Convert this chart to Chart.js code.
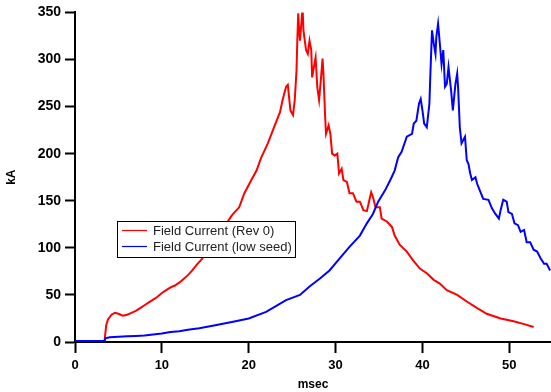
<!DOCTYPE html>
<html>
<head>
<meta charset="utf-8">
<script src="https://cdn.jsdelivr.net/npm/chart.js@4/dist/chart.umd.min.js"></script>
<style>
  html, body { margin: 0; padding: 0; background: #fff; }
  #chart { display: block; }
</style>
</head>
<body>
<canvas id="chart" width="551" height="392"></canvas>
<script>
"use strict";

// values (time in msec, current in kA)
var redLabel = "Field Current (Rev 0)";
var redColor = '#ff0000';
var redTime = [0, 3.4, 3.5, 3.6, 3.8, 4.2, 4.6, 5.0, 5.5, 6.0,
    6.5, 7.0, 7.5, 8.0, 8.5, 9.0, 9.5, 10.0, 10.5, 11.0,
    11.5, 12.0, 12.5, 13.0, 13.5, 14.0, 14.5, 15, 16, 17,
    18.1, 18.9, 19.5, 20.3, 20.9, 21.4, 22.2, 23.0, 23.6, 23.9,
    24.3, 24.5, 24.8, 25.1, 25.3, 25.5, 25.6, 25.7, 25.8, 25.9,
    26.2, 26.3, 26.6, 26.8, 27.0, 27.2, 27.3, 27.5, 27.7, 27.9,
    28.1, 28.3, 28.5, 28.6, 28.8, 28.9, 29.2, 29.4, 29.6, 29.9,
    30.2, 30.4, 30.7, 30.9, 31.3, 31.6, 32.0, 32.4, 32.8, 33.2,
    33.6, 33.9, 34.1, 34.3, 34.6, 35.1, 35.3, 35.9, 36.5, 36.8,
    37.4, 38.2, 38.9, 39.7, 40.5, 41.3, 42.0, 42.8, 44.0, 45.1,
    46.3, 47.4, 49.0, 50.5, 51.7, 52.8];
var redKA = [1, 1, 10, 18, 24, 29, 31, 30, 28, 29,
    31, 33, 36, 39, 42, 45, 48, 52, 55, 58,
    60, 63, 67, 71, 76, 82, 87, 93, 106, 120,
    135, 143, 158, 172, 182, 195, 211, 230, 244, 257,
    271, 273, 246, 241, 257, 288, 322, 349, 331, 320,
    355, 331, 310, 306, 320, 310, 281, 292, 302, 270,
    257, 278, 301, 285, 239, 221, 230, 221, 200, 198,
    200, 179, 184, 172, 170, 158, 158, 149, 149, 140,
    139, 151, 159, 154, 143, 143, 131, 128, 122, 113,
    103, 96, 87, 78, 73, 66, 62, 55, 50, 43,
    36, 30, 25, 22, 19, 16];

var blueLabel = "Field Current (low seed)";
var blueColor = '#0000ff';
var blueTime = [0, 3.4, 3.5, 4, 5, 6, 7, 8, 9, 10,
    11, 12, 13, 14.3, 16, 18.2, 20, 22.0, 24.3, 25.9,
    27.0, 28.2, 29.3, 30.5, 31.6, 32.8, 33.6, 34.3, 34.9, 35.7,
    36.3, 36.8, 37.2, 37.6, 38.2, 38.8, 39.0, 39.3, 39.6, 39.8,
    40.0, 40.2, 40.5, 40.8, 40.9, 41.1, 41.3, 41.5, 41.6, 41.8,
    42.0, 42.2, 42.4, 42.6, 42.8, 43.0, 43.3, 43.5, 43.8, 44.0,
    44.1, 44.3, 44.5, 44.9, 45.1, 45.3, 45.5, 45.7, 46.1, 46.3,
    46.6, 47.0, 47.6, 48.0, 48.4, 48.8, 49.0, 49.3, 49.7, 49.9,
    50.3, 50.6, 51.0, 51.3, 51.7, 52.0, 52.4, 52.8, 53.2, 53.6,
    54.0, 54.3, 54.7];
var blueKA = [1, 1, 4, 5, 5.5, 6, 6.5, 7, 8, 9,
    10.5, 11.5, 13, 14.5, 17.5, 21.5, 25, 32, 44.5, 50,
    59, 67.5, 76, 89, 101, 113, 126, 136, 149, 161,
    172, 182, 196, 202, 218, 221, 232, 235, 253, 258,
    246, 232, 228, 253, 281, 331, 317, 306, 324, 338,
    317, 295, 310, 271, 274, 292, 267, 246, 274, 285,
    271, 228, 211, 218, 193, 189, 179, 172, 175, 168,
    161, 152, 151, 142, 136, 131, 140, 151, 149, 138,
    136, 126, 124, 117, 119, 106, 106, 98, 96, 89,
    83, 83, 76];

var xTicks = [0, 10, 20, 30, 40, 50];
var yTicks = [0, 50, 100, 150, 200, 250, 300, 350];

function toPoints(xs, ys) {
    return xs.map(function (x, i) { return { x: x, y: ys[i] }; });
}

var xTickFont = { family: "'Liberation Sans', Arial, sans-serif", size: 13, weight: 'bold' };
var yTickFont = { family: "'Liberation Sans', Arial, sans-serif", size: 14, weight: 'bold' };
var titleFont = { family: "'Liberation Sans', Arial, sans-serif", size: 12, weight: 'bold' };

// legend box drawn inside the plot, like the original
var legendEntries = [
    { label: redLabel, color: redColor },
    { label: blueLabel, color: blueColor }
];
var boxLegend = {
    id: 'boxLegend',
    afterDraw: function (chart) {
        var ctx = chart.ctx;
        var left = 117.5, top = 221.5, w = 178, h = 36;
        ctx.save();
        ctx.fillStyle = '#fff';
        ctx.fillRect(left, top, w, h);
        ctx.strokeStyle = '#000';
        ctx.lineWidth = 1;
        ctx.strokeRect(left, top, w, h);
        ctx.font = "13px 'Liberation Sans', Arial, sans-serif";
        ctx.textBaseline = 'middle';
        legendEntries.forEach(function (entry, i) {
            var y = Math.round(top + 8 + i * 16.5) + 0.5;
            ctx.strokeStyle = entry.color;
            ctx.lineWidth = 1.2;
            ctx.beginPath();
            ctx.moveTo(122, y);
            ctx.lineTo(147, y);
            ctx.stroke();
            ctx.fillStyle = '#222';
            ctx.fillText(entry.label, 153, y + 1);
        });
        ctx.restore();
    }
};

var chartArea = document.getElementById("chart");
var currentChart = new Chart(chartArea, {
    type: 'line',
    data: {
        datasets: [
            {
                label: redLabel,
                data: toPoints(redTime, redKA),
                borderColor: redColor,
                borderWidth: 2,
                pointRadius: 0,
                tension: 0,
                fill: false,
                order: 1
            },
            {
                label: blueLabel,
                data: toPoints(blueTime, blueKA),
                borderColor: blueColor,
                borderWidth: 2,
                pointRadius: 0,
                tension: 0,
                fill: false,
                order: 0
            }
        ]
    },
    options: {
        responsive: false,
        animation: false,
        layout: { padding: { top: 12, right: 0, bottom: 0, left: 0 } },
        plugins: {
            legend: { display: false },
            tooltip: { enabled: false }
        },
        scales: {
            x: {
                type: 'linear',
                min: 0,
                max: 54.8,
                afterBuildTicks: function (scale) {
                    scale.ticks = xTicks.map(function (v) { return { value: v }; });
                },
                afterFit: function (scale) { scale.height = 50; },
                ticks: { font: xTickFont, color: '#000', padding: 5, maxRotation: 0 },
                grid: { drawOnChartArea: false, tickLength: 11, tickWidth: 2, tickColor: '#000' },
                border: { color: '#000', width: 2 },
                title: { display: true, text: 'msec', font: titleFont, color: '#000', padding: { top: 0, bottom: 0 } }
            },
            y: {
                min: 0,
                max: 350,
                afterBuildTicks: function (scale) {
                    scale.ticks = yTicks.map(function (v) { return { value: v }; });
                },
                afterFit: function (scale) { scale.width = 75; },
                ticks: { font: yTickFont, color: '#000', padding: 4 },
                grid: { drawOnChartArea: false, tickLength: 10, tickWidth: 2, tickColor: '#000' },
                border: { color: '#000', width: 2 },
                title: { display: true, text: 'kA', font: titleFont, color: '#000', padding: { top: 4, bottom: 0 } }
            }
        }
    },
    plugins: [boxLegend]
});
</script>
</body>
</html>
